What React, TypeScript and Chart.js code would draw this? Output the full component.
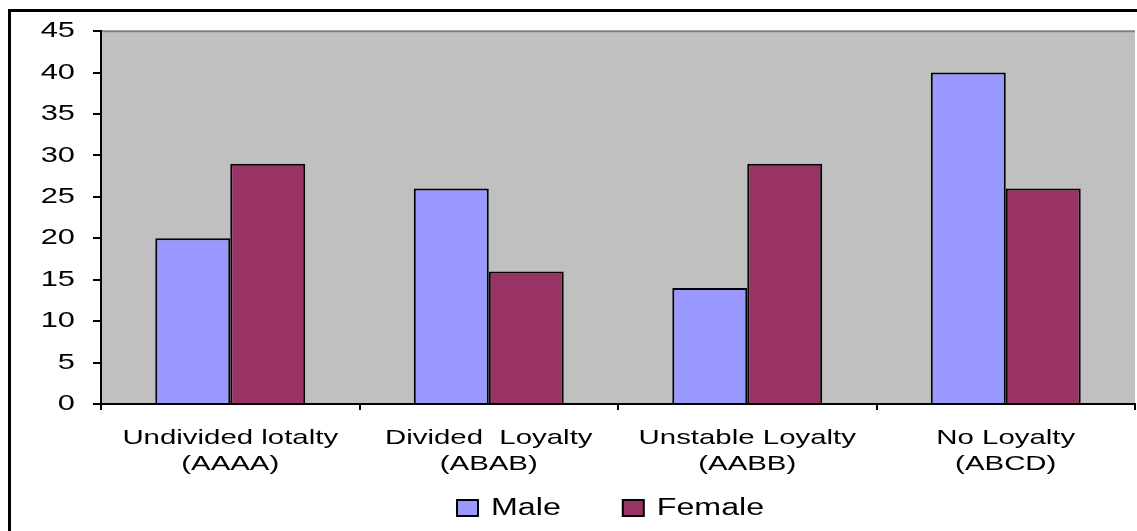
import React, { useEffect, useRef } from "react";
import { Chart, registerables } from "chart.js";

Chart.register(...registerables);

// ---- data ----
const categories: string[][] = [
  ["Undivided lotalty", "(AAAA)"],
  ["Divided  Loyalty", "(ABAB)"],
  ["Unstable Loyalty", "(AABB)"],
  ["No Loyalty", "(ABCD)"],
];
const seriesNames: string[] = ["Male", "Female"];
const maleValues: number[] = [20, 26, 14, 40];
const femaleValues: number[] = [29, 16, 29, 26];
const yMin = 0;
const yMax = 45;
const yStep = 5;

// ---- styles ----
const FONT = "'Liberation Sans', Arial, sans-serif";
const MALE_COLOR = "#9999FF";
const FEMALE_COLOR = "#993366";
const PLOT_BG = "#C0C0C0";
const TEXT_STRETCH = 1.4;

function stretchText(ctx: any, sx: number) {
  if (ctx.__stretched) return;
  ctx.__stretched = true;
  const origFill = ctx.fillText.bind(ctx);
  const origMeasure = ctx.measureText.bind(ctx);
  ctx.fillText = (t: string, x: number, y: number) => {
    ctx.save();
    ctx.translate(x, y);
    ctx.scale(sx, 1);
    origFill(t, 0, 0);
    ctx.restore();
  };
  ctx.measureText = (t: string) => {
    const m = origMeasure(t);
    return {
      width: m.width * sx,
      actualBoundingBoxAscent: m.actualBoundingBoxAscent,
      actualBoundingBoxDescent: m.actualBoundingBoxDescent,
      actualBoundingBoxLeft: m.actualBoundingBoxLeft * sx,
      actualBoundingBoxRight: m.actualBoundingBoxRight * sx,
      fontBoundingBoxAscent: m.fontBoundingBoxAscent,
      fontBoundingBoxDescent: m.fontBoundingBoxDescent,
    };
  };
}

const framePlugin = {
  id: "frame",
  beforeDraw(chart: any) {
    const { ctx, chartArea: ca } = chart;
    ctx.save();
    ctx.fillStyle = "#FFFFFF";
    ctx.fillRect(0, 0, chart.width, chart.height);
    ctx.fillStyle = "#000000";
    ctx.fillRect(8, 9, 3, chart.height - 9);
    ctx.fillRect(8, 9, chart.width - 8, 3);
    ctx.fillStyle = PLOT_BG;
    ctx.fillRect(ca.left, ca.top, ca.right - ca.left, ca.bottom - ca.top);
    ctx.strokeStyle = "#808080";
    ctx.lineWidth = 2;
    ctx.beginPath();
    ctx.moveTo(ca.left, ca.top);
    ctx.lineTo(ca.right, ca.top);
    ctx.stroke();
    ctx.restore();
  },
};

const legendPlugin = {
  id: "customLegend",
  afterDraw(chart: any) {
    const { ctx, chartArea: ca } = chart;
    ctx.save();
    ctx.font = `23px ${FONT}`;
    const boxW = 21;
    const boxH = 16;
    const gap = 13;
    const itemGap = 62;
    let x = ca.left + 356;
    const cy = ca.bottom + 104;
    chart.data.datasets.forEach((ds: any) => {
      const w = ctx.measureText(ds.label).width;
      ctx.fillStyle = ds.backgroundColor;
      ctx.fillRect(x, cy - boxH / 2, boxW, boxH);
      ctx.strokeStyle = "#000000";
      ctx.lineWidth = 2;
      ctx.strokeRect(x, cy - boxH / 2, boxW, boxH);
      ctx.fillStyle = "#000000";
      ctx.textAlign = "left";
      ctx.textBaseline = "middle";
      ctx.fillText(ds.label, x + boxW + gap, cy + 1);
      x += boxW + gap + w + itemGap;
    });
    ctx.restore();
  },
};

export default function App() {
  const canvasRef = useRef<HTMLCanvasElement | null>(null);

  useEffect(() => {
    const canvas = canvasRef.current;
    if (!canvas) return;
    const ctx = canvas.getContext("2d");
    stretchText(ctx, TEXT_STRETCH);
    const chart = new Chart(canvas, {
      type: "bar",
      data: {
        labels: categories,
        datasets: [
          {
            label: seriesNames[0],
            data: maleValues,
            backgroundColor: MALE_COLOR,
            borderColor: "#000000",
            borderWidth: 2,
            categoryPercentage: 0.58,
            barPercentage: 1,
          },
          {
            label: seriesNames[1],
            data: femaleValues,
            backgroundColor: FEMALE_COLOR,
            borderColor: "#000000",
            borderWidth: 2,
            categoryPercentage: 0.58,
            barPercentage: 1,
          },
        ],
      },
      options: {
        animation: false,
        responsive: false,
        maintainAspectRatio: false,
        layout: { padding: { top: 31, right: 2, left: 0, bottom: 0 } },
        plugins: {
          legend: { display: false },
          tooltip: { enabled: false },
        },
        scales: {
          x: {
            offset: true,
            grid: {
              offset: true,
              drawOnChartArea: false,
              drawTicks: true,
              tickLength: 6,
              color: "#000000",
              lineWidth: 2,
            },
            border: { display: true, color: "#000000", width: 2 },
            ticks: {
              color: "#000000",
              font: { family: FONT, size: 21, lineHeight: 1.25 },
              padding: 15,
              maxRotation: 0,
              autoSkip: false,
            },
            afterFit: (s: any) => {
              s.height = 127;
            },
          },
          y: {
            min: yMin,
            max: yMax,
            ticks: {
              stepSize: yStep,
              color: "#000000",
              font: { family: FONT, size: 22 },
              padding: 18,
            },
            grid: {
              drawOnChartArea: false,
              drawTicks: true,
              tickLength: 8,
              color: "#000000",
              lineWidth: 2,
            },
            border: { display: true, color: "#000000", width: 2 },
            afterFit: (s: any) => {
              s.width = 101;
            },
          },
        },
      },
      plugins: [framePlugin, legendPlugin],
    } as any);
    return () => chart.destroy();
  }, []);

  return (
    <div style={{ position: "absolute", left: 0, top: 0, width: 1137, height: 531, background: "#fff" }}>
      <canvas ref={canvasRef} width={1137} height={531} style={{ display: "block", width: 1137, height: 531 }} />
    </div>
  );
}
